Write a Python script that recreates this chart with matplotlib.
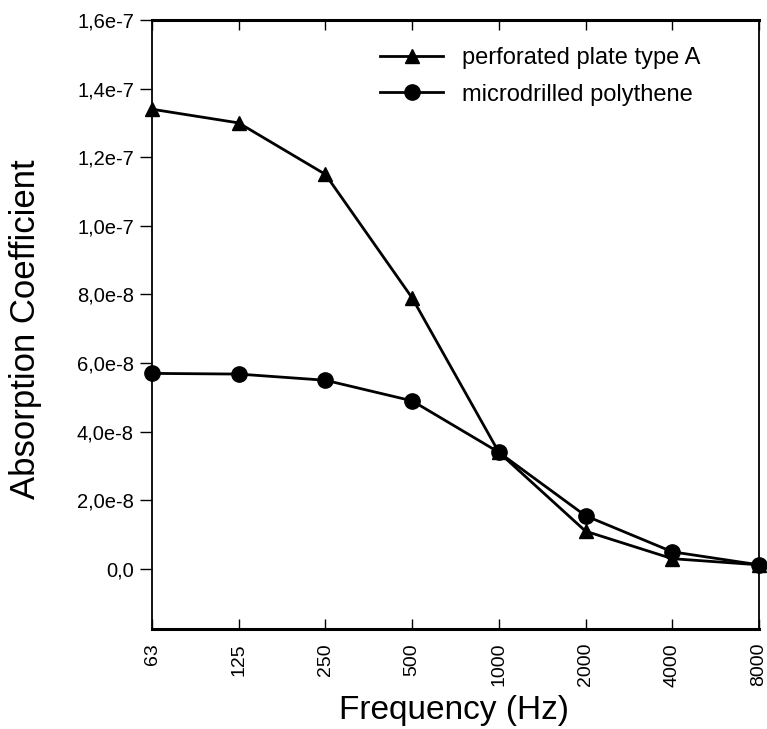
import matplotlib
matplotlib.use("Agg")
import matplotlib.pyplot as plt
from matplotlib.ticker import FixedLocator, FixedFormatter

plt.rcParams['font.family'] = ['Liberation Sans', 'DejaVu Sans']

frequencies = ["63", "125", "250", "500", "1000", "2000", "4000", "8000"]
perforated_plate = [1.34e-7, 1.30e-7, 1.15e-7, 7.9e-8, 3.4e-8, 1.1e-8, 3.0e-9, 1.2e-9]
microdrilled = [5.7e-8, 5.68e-8, 5.5e-8, 4.9e-8, 3.4e-8, 1.55e-8, 5.0e-9, 1.2e-9]
ytick_values = [0.0, 2e-8, 4e-8, 6e-8, 8e-8, 1.0e-7, 1.2e-7, 1.4e-7, 1.6e-7]
ytick_labels = ["0,0", "2,0e-8", "4,0e-8", "6,0e-8", "8,0e-8", "1,0e-7", "1,2e-7", "1,4e-7", "1,6e-7"]

fig = plt.figure(figsize=(7.67, 7.29), dpi=100)
ax = fig.add_axes([152/767, 1 - 629/729, (759-152)/767, (629-20)/729])

ax.plot(frequencies, perforated_plate, color='black', lw=2, marker='^', ms=10,
        label='perforated plate type A', clip_on=False, zorder=3)
ax.plot(frequencies, microdrilled, color='black', lw=2, marker='o', ms=11,
        label='microdrilled polythene', clip_on=False, zorder=3)

ax.set_xlim(0, len(frequencies) - 1)
ax.set_ylim(-1.75e-8, 1.6e-7)

ax.yaxis.set_major_locator(FixedLocator(ytick_values))
ax.yaxis.set_major_formatter(FixedFormatter(ytick_labels))

ax.tick_params(axis='y', direction='out', length=9, width=1, labelsize=14.5, pad=4, right=False)
ax.tick_params(axis='x', direction='in', length=7, width=1, labelsize=14, pad=10, top=True,
               labelrotation=90)

for s in ['top', 'bottom']:
    ax.spines[s].set_linewidth(2.2)
for s in ['left', 'right']:
    ax.spines[s].set_linewidth(1.3)

ax.set_xlabel('Frequency (Hz)', fontsize=24, va='baseline')
ax.xaxis.set_label_coords(0.497, -0.148)
ax.set_ylabel('Absorption Coefficient', fontsize=25)
ax.yaxis.set_label_coords(-0.181, 0.493)

leg = ax.legend(loc='upper left', bbox_to_anchor=(0.375, 0.955), frameon=False,
                fontsize=17, handlelength=2.7, handletextpad=0.8, labelspacing=0.6,
                borderpad=0, borderaxespad=0)

fig.savefig('out.png', dpi=100)
